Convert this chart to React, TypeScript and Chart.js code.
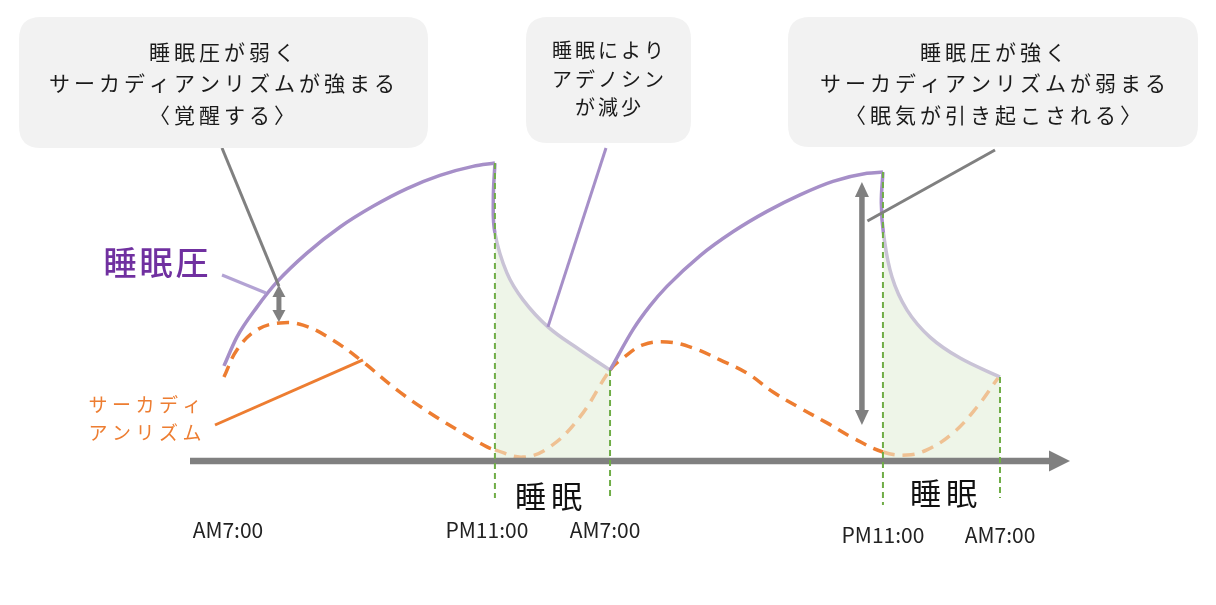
import React, { useEffect, useRef } from "react";
import { Chart, registerables } from "chart.js";

Chart.register(...registerables);

// ---- Timeline (hours from the first AM7:00, positions as drawn in the illustration) ----
const tickValues = [0, 16.76, 23.88, 40.76, 48];
const tickLabels = ["AM7:00", "PM11:00", "AM7:00", "PM11:00", "AM7:00"];
const sleepWindows: [number, number][] = [
  [16.76, 23.88],
  [40.76, 48],
];
const sleepLabel = "睡眠";

// ---- Sleep pressure (睡眠圧) ----
const pressureWake1X = [0, 0.8, 2.04, 3.28, 5.13, 7.18, 9.22, 11.32, 13.36, 15.4, 16.76];
const pressureWake1Y = [31.7, 41.3, 51.3, 59.7, 69.3, 78, 84.9, 90.8, 95.2, 98.2, 99.3];
const pressureSleep1X = [16.76, 16.66, 16.76, 17.5, 18.5, 20.04, 22.02, 23.88];
const pressureSleep1Y = [99.3, 87, 76, 62.7, 53.7, 44.7, 37, 30.3];
const pressureWake2X = [23.88, 25.3, 26.35, 27.4, 29.44, 31.48, 33.59, 35.63, 37.67, 39.77, 40.76];
const pressureWake2Y = [30.3, 43.8, 51.7, 58.2, 68.4, 76.4, 83.2, 88.7, 93.2, 95.9, 96.3];
const pressureSleep2X = [40.76, 40.66, 40.79, 41.32, 42.25, 43.67, 45.53, 48];
const pressureSleep2Y = [96.3, 86, 76, 61.3, 50.3, 41.3, 34.3, 28];

// ---- Circadian rhythm (サーカディアンリズム) ----
const circadianX = [
  0, 0.8, 2.04, 3.46, 4.89, 6.74, 8.6, 10.7, 12.74, 14.78, 16.27, 16.76, 18.5, 20.16, 22.02,
  23.88, 24.68, 25.92, 27.4, 29.01, 30.68, 32.35, 33.96, 35.63, 37.3, 38.91, 40.76, 42.25,
  43.48, 45.09, 46.58, 47.88,
];
const circadianY = [
  28, 37, 43.7, 46, 45.3, 40.3, 33, 23.7, 16, 9.3, 4.7, 3.7, 1.3, 4.7, 14.7, 30.3, 34.3, 38.7,
  39.7, 37.7, 33.7, 29.3, 23, 17.7, 12.7, 7.7, 3, 2, 3.7, 9.3, 18, 27.7,
];

// ---- Texts ----
const pressureTitle = "睡眠圧";
const circadianTitle = ["サーカディ", "アンリズム"];
const box1Lines = ["睡眠圧が弱く", "サーカディアンリズムが強まる", "〈覚醒する〉"];
const box2Lines = ["睡眠により", "アデノシン", "が減少"];
const box3Lines = ["睡眠圧が強く", "サーカディアンリズムが弱まる", "〈眠気が引き起こされる〉"];

// ---- Styles ----
const FONT = '"Noto Sans CJK JP", "Noto Sans", sans-serif';
const PURPLE = "#a68fc8";
const PURPLE_LIGHT = "#c9c3d6";
const PURPLE_LABEL_LINE = "#b3a3d4";
const PURPLE_TEXT = "#7030a0";
const ORANGE = "#ed7d31";
const ORANGE_LIGHT = "#efc193";
const GREEN = "#70ad47";
const GREEN_FILL = "#eef5e8";
const GRAY = "#808080";
const BOX = "#f2f2f2";
const TEXT = "#1a1a1a";

const toPts = (xs: number[], ys: number[]) => xs.map((x, i) => ({ x, y: ys[i] }));
const inSleep = (x: number) => sleepWindows.some(([a, b]) => x > a && x < b);

function spacedText(ctx: CanvasRenderingContext2D, text: string, cx: number, cy: number, spacing: number) {
  const chars = Array.from(text);
  const widths = chars.map((c) => ctx.measureText(c).width);
  const total = widths.reduce((a, b) => a + b, 0) + spacing * (chars.length - 1);
  let x = cx - total / 2;
  ctx.textAlign = "left";
  ctx.textBaseline = "middle";
  chars.forEach((c, i) => {
    ctx.fillText(c, x, cy);
    x += widths[i] + spacing;
  });
}

function roundRect(ctx: CanvasRenderingContext2D, x: number, y: number, w: number, h: number, r: number) {
  ctx.beginPath();
  ctx.moveTo(x + r, y);
  ctx.lineTo(x + w - r, y);
  ctx.quadraticCurveTo(x + w, y, x + w, y + r);
  ctx.lineTo(x + w, y + h - r);
  ctx.quadraticCurveTo(x + w, y + h, x + w - r, y + h);
  ctx.lineTo(x + r, y + h);
  ctx.quadraticCurveTo(x, y + h, x, y + h - r);
  ctx.lineTo(x, y + r);
  ctx.quadraticCurveTo(x, y, x + r, y);
  ctx.closePath();
}

function doubleArrow(
  ctx: CanvasRenderingContext2D,
  x: number,
  y1: number,
  y2: number,
  shaftW: number,
  headW: number,
  headL: number
) {
  ctx.fillStyle = GRAY;
  ctx.fillRect(x - shaftW / 2, y1 + headL - 1, shaftW, y2 - y1 - 2 * headL + 2);
  ctx.beginPath();
  ctx.moveTo(x, y1);
  ctx.lineTo(x + headW / 2, y1 + headL);
  ctx.lineTo(x - headW / 2, y1 + headL);
  ctx.closePath();
  ctx.fill();
  ctx.beginPath();
  ctx.moveTo(x, y2);
  ctx.lineTo(x + headW / 2, y2 - headL);
  ctx.lineTo(x - headW / 2, y2 - headL);
  ctx.closePath();
  ctx.fill();
}

const decorPlugin = {
  id: "decor",
  afterDatasetsDraw(chart: any) {
    const { ctx, chartArea } = chart;
    const sx = chart.scales.x;
    const sy = chart.scales.y;
    const px = (v: number) => sx.getPixelForValue(v);
    const py = (v: number) => sy.getPixelForValue(v);
    ctx.save();

    // time axis with arrow
    const y0 = py(0);
    ctx.fillStyle = GRAY;
    ctx.fillRect(chartArea.left, y0 - 3.25, chartArea.right - 20 - chartArea.left, 6.5);
    ctx.beginPath();
    ctx.moveTo(chartArea.right - 21, y0 - 10.5);
    ctx.lineTo(chartArea.right, y0);
    ctx.lineTo(chartArea.right - 21, y0 + 10.5);
    ctx.closePath();
    ctx.fill();

    // sleep window boundaries (green dashed)
    ctx.strokeStyle = GREEN;
    ctx.lineWidth = 2;
    ctx.setLineDash([6, 4]);
    const bounds: [number, number, number][] = [
      [sleepWindows[0][0], pressureSleep1Y[0], -12.3],
      [sleepWindows[0][1], pressureSleep1Y[pressureSleep1Y.length - 1], -12],
      [sleepWindows[1][0], pressureSleep2Y[0], -14.7],
      [sleepWindows[1][1], pressureSleep2Y[pressureSleep2Y.length - 1], -12.3],
    ];
    bounds.forEach(([x, top, bottom]) => {
      ctx.beginPath();
      ctx.moveTo(px(x), py(top));
      ctx.lineTo(px(x), py(bottom));
      ctx.stroke();
    });
    ctx.setLineDash([]);

    // callout lines
    ctx.lineCap = "butt";
    const line = (x1: number, y1: number, x2: number, y2: number, color: string, w: number) => {
      ctx.strokeStyle = color;
      ctx.lineWidth = w;
      ctx.beginPath();
      ctx.moveTo(x1, y1);
      ctx.lineTo(x2, y2);
      ctx.stroke();
    };
    line(222, 148, px(3.4), py(58.3), GRAY, 3);
    line(606, 148, px(20.04), py(44.7), PURPLE, 3);
    line(995, 150, px(39.8), py(80), GRAY, 3);
    line(222, 275, px(2.6), py(56), PURPLE_LABEL_LINE, 3);
    line(215, 425, px(8.6), py(33.7), ORANGE, 3);

    // double arrows
    doubleArrow(ctx, px(3.4), py(58.7), py(46.3), 5, 13, 12);
    doubleArrow(ctx, px(39.46), py(93), py(12), 5.5, 14, 15);

    // boxes
    const boxes = [
      { x: 19, y: 17, w: 409, h: 131, r: 22, cx: 222, lines: box1Lines, ys: [52, 83.5, 115], size: 21, sp: 4 },
      { x: 526, y: 17, w: 165, h: 126, r: 22, cx: 608, lines: box2Lines, ys: [50, 79, 107], size: 20, sp: 3 },
      { x: 788, y: 17, w: 410, h: 130, r: 22, cx: 993, lines: box3Lines, ys: [52, 83.5, 115], size: 21, sp: 4 },
    ];
    boxes.forEach((b) => {
      ctx.fillStyle = BOX;
      roundRect(ctx, b.x, b.y, b.w, b.h, b.r);
      ctx.fill();
      ctx.fillStyle = TEXT;
      ctx.font = `400 ${b.size}px ${FONT}`;
      b.lines.forEach((t, i) => spacedText(ctx, t, b.cx, b.ys[i], b.sp));
    });

    // series titles
    ctx.fillStyle = PURPLE_TEXT;
    ctx.font = `500 33px ${FONT}`;
    spacedText(ctx, pressureTitle, 156, 262, 3);
    ctx.fillStyle = ORANGE;
    ctx.font = `400 19px ${FONT}`;
    spacedText(ctx, circadianTitle[0], 145, 405, 4.5);
    spacedText(ctx, circadianTitle[1], 145, 433, 4.5);

    // sleep labels
    ctx.fillStyle = "#111";
    ctx.font = `400 31px ${FONT}`;
    const sleepOffsets = [-4, 2];
    sleepWindows.forEach(([a, b], i) => {
      spacedText(ctx, sleepLabel, (px(a) + px(b)) / 2 + sleepOffsets[i], i === 0 ? 496 : 493, 5);
    });

    // time tick labels
    ctx.fillStyle = "#222";
    ctx.font = `400 21px ${FONT}`;
    const tickOffsetX = [4, -8, -5, 0, 0];
    const tickY = [530, 530, 530, 535, 535];
    tickValues.forEach((v, i) => {
      spacedText(ctx, tickLabels[i], px(v) + tickOffsetX[i], tickY[i], 0);
    });

    ctx.restore();
  },
};

export default function App() {
  const ref = useRef<HTMLCanvasElement | null>(null);

  useEffect(() => {
    if (!ref.current) return;
    const sleepSegColor = (ctx: any) => (ctx.p0DataIndex < 2 ? PURPLE : PURPLE_LIGHT);
    const chart = new Chart(ref.current, {
      type: "line",
      data: {
        datasets: [
          {
            label: "睡眠圧 (睡眠1)",
            data: toPts(pressureSleep1X, pressureSleep1Y),
            borderColor: PURPLE_LIGHT,
            borderWidth: 3.5,
            fill: { value: 0 },
            backgroundColor: GREEN_FILL,
            tension: 0.4,
            pointRadius: 0,
            segment: { borderColor: sleepSegColor },
            order: 5,
          } as any,
          {
            label: "睡眠圧 (睡眠2)",
            data: toPts(pressureSleep2X, pressureSleep2Y),
            borderColor: PURPLE_LIGHT,
            borderWidth: 3.5,
            fill: { value: 0 },
            backgroundColor: GREEN_FILL,
            tension: 0.4,
            pointRadius: 0,
            segment: { borderColor: sleepSegColor },
            order: 4,
          } as any,
          {
            label: "サーカディアンリズム",
            data: toPts(circadianX, circadianY),
            borderColor: ORANGE,
            borderWidth: 3.5,
            borderDash: [12, 8],
            fill: false,
            tension: 0.4,
            pointRadius: 0,
            segment: {
              borderColor: (ctx: any) =>
                inSleep((circadianX[ctx.p0DataIndex] + circadianX[ctx.p1DataIndex]) / 2)
                  ? ORANGE_LIGHT
                  : ORANGE,
            },
            order: 3,
          } as any,
          {
            label: "睡眠圧 (覚醒1)",
            data: toPts(pressureWake1X, pressureWake1Y),
            borderColor: PURPLE,
            borderWidth: 3.5,
            fill: false,
            cubicInterpolationMode: "monotone",
            pointRadius: 0,
            order: 2,
          },
          {
            label: "睡眠圧 (覚醒2)",
            data: toPts(pressureWake2X, pressureWake2Y),
            borderColor: PURPLE,
            borderWidth: 3.5,
            fill: false,
            cubicInterpolationMode: "monotone",
            pointRadius: 0,
            order: 1,
          },
        ],
      },
      options: {
        responsive: false,
        animation: false,
        layout: { padding: { left: 190, right: 146, top: 161, bottom: 54 } },
        scales: {
          x: { type: "linear", min: -2.1, max: 52.33, display: false },
          y: { type: "linear", min: -30, max: 100, display: false },
        },
        plugins: { legend: { display: false }, tooltip: { enabled: false } },
        elements: { line: { capBezierPoints: true } },
      },
      plugins: [decorPlugin],
    });
    return () => chart.destroy();
  }, []);

  return (
    <div style={{ position: "absolute", left: 0, top: 0, width: 1216, height: 605, background: "#fff" }}>
      <canvas ref={ref} width={1216} height={605} style={{ display: "block" }} />
    </div>
  );
}
